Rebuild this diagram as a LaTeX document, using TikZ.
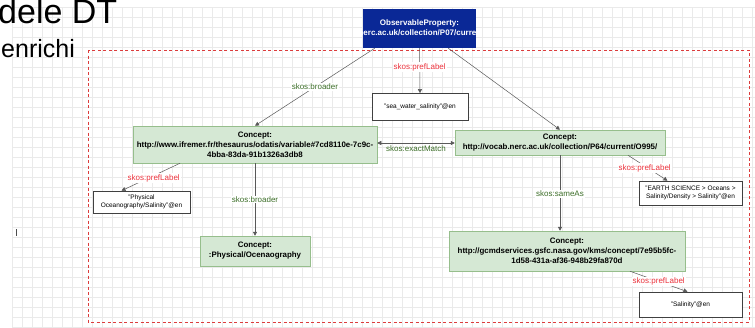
\documentclass[tikz,border=0pt]{standalone}
\usepackage{fontspec}
\setmainfont{Liberation Sans}
\usetikzlibrary{arrows.meta,calc}

\definecolor{obsblue}{RGB}{10,40,150}
\definecolor{conceptfill}{RGB}{213,232,212}
\definecolor{conceptline}{RGB}{150,190,140}
\definecolor{gridline}{RGB}{234,234,234}
\definecolor{framered}{RGB}{220,60,60}
\definecolor{labelgreen}{RGB}{60,110,40}
\definecolor{labelred}{RGB}{235,50,60}

\tikzset{
  concept/.style={draw=conceptline, fill=conceptfill, line width=0.5pt,
    align=center, inner sep=0pt, font=\fontsize{7.9}{10}\selectfont\bfseries},
  literal/.style={draw=black!75, fill=white, line width=0.6pt,
    align=center, inner sep=0pt, font=\fontsize{6.5}{8}\selectfont},
  obsbox/.style={fill=obsblue, inner sep=0pt},
  rel/.style={draw=black!65, line width=0.5pt,
    -{Triangle[length=4pt,width=4pt]}},
  relboth/.style={rel, {Triangle[length=4pt,width=4pt]}-{Triangle[length=4pt,width=4pt]}},
  greenlbl/.style={text=labelgreen, font=\fontsize{8}{9}\selectfont, inner sep=1pt},
  redlbl/.style={text=labelred, font=\fontsize{8}{9}\selectfont, inner sep=1pt},
}

\begin{document}
\begin{tikzpicture}[x=1pt,y=-1pt]
  \useasboundingbox (0,0) rectangle (755,327);
  \fill[white] (0,0) rectangle (755,327);

  % background grid of the drawing canvas
  \begin{scope}
    \clip (12,7) rectangle (755,327);
    \foreach \gx in {12,22,...,752} \draw[gridline, line width=0.4pt] (\gx,7) -- (\gx,327);
    \foreach \gy in {7,17,...,327} \draw[gridline, line width=0.4pt] (12,\gy) -- (755,\gy);
  \end{scope}

  % slide heading fragments
  \node[anchor=base west, inner sep=0pt, font=\fontsize{34}{34}\selectfont] (title) at (-2,23) {dele DT};
  \node[anchor=base west, inner sep=0pt, font=\fontsize{25}{25}\selectfont] (subtitle) at (1,57) {enrichi};

  % dashed frame around the enriched part
  \draw[framered, dashed, dash pattern=on 3pt off 2.5pt, line width=0.7pt] (88,50) rectangle (749,322);

  % observable property (text clipped by its box)
  \node[obsbox, minimum width=113pt, minimum height=39pt] (obs) at (419.5,28.5) {};
  \begin{scope}
    \clip (obs.south west) rectangle (obs.north east);
    \node[text=white, align=center, font=\fontsize{8}{10}\selectfont\bfseries] (obstext) at (obs.center)
      {ObservableProperty:\\http://vocab.nerc.ac.uk/collection/P07/current/CFSN0331/};
  \end{scope}

  % concepts
  \node[concept, minimum width=244pt, minimum height=37pt] (c1) at (255,144.5)
    {Concept:\\http://www.ifremer.fr/thesaurus/odatis/variable\#7cd8110e-7c9c-\\4bba-83da-91b1326a3db8};
  \node[concept, minimum width=210pt, minimum height=25pt] (c2) at (560,142.5)
    {Concept:\\http://vocab.nerc.ac.uk/collection/P64/current/O995/};
  \node[concept, minimum width=110pt, minimum height=30pt] (c3) at (255,251)
    {Concept:\\:Physical/Ocenaography};
  \node[concept, minimum width=236pt, minimum height=40pt] (c4) at (567,251)
    {Concept:\\http://gcmdservices.gsfc.nasa.gov/kms/concept/7e95b5fc-\\1d58-431a-af36-948b29fa870d};

  % literal labels
  \node[literal, minimum width=96pt, minimum height=27pt] (sea) at (420,107) {"sea\_water\_salinity"@en};
  \node[literal, minimum width=97pt, minimum height=22pt] (phys) at (141.5,202)
    {"Physical\\Oceanography/Salinity"@en};
  \node[literal, minimum width=103pt, minimum height=24pt] (earth) at (690.5,193)
    {"EARTH SCIENCE > Oceans >\\Salinity/Density > Salinity"@en};
  \node[literal, minimum width=103pt, minimum height=25pt] (sal) at (690.5,304.5) {"Salinity"@en};

  % relations
  \draw[rel] ([xshift=12pt]obs.south west) -- (c1.north)
    node[greenlbl, fill=white, pos=0.5] (l1) {skos:broader};
  \draw[rel] (obs.south) -- (sea.north)
    node[redlbl, fill=white, pos=0.42] (l2) {skos:prefLabel};
  \draw[rel] ([xshift=-28pt]obs.south east) -- (c2.north);
  \draw[relboth] (c2.west |- 0,143) -- (c1.east |- 0,143)
    node[greenlbl, midway, below=1pt] (l3) {skos:exactMatch};
  \draw[rel] ([xshift=-75pt]c1.south) -- ([xshift=-20pt]phys.north)
    node[redlbl, fill=white, midway, xshift=3pt, yshift=-1pt] (l4) {skos:prefLabel};
  \draw[rel] (c1.south) -- (c3.north)
    node[greenlbl, fill=white, midway] (l5) {skos:broader};
  \draw[rel] ([xshift=68pt]c2.south) -- ([xshift=-23pt]earth.north)
    node[redlbl, fill=white, midway, xshift=-3pt] (l6) {skos:prefLabel};
  \draw[rel] (c2.south) -- (c2.south |- c4.north)
    node[greenlbl, fill=white, midway, yshift=-1pt] (l7) {skos:sameAs};
  \draw[rel] ([xshift=63pt]c4.south) -- ([xshift=-3pt]sal.north)
    node[redlbl, fill=white, midway] (l8) {skos:prefLabel};

  % small stray mark at the left edge
  \draw[black!70, line width=0.8pt] (16.5,229) -- (16.5,236);
\end{tikzpicture}
\end{document}
